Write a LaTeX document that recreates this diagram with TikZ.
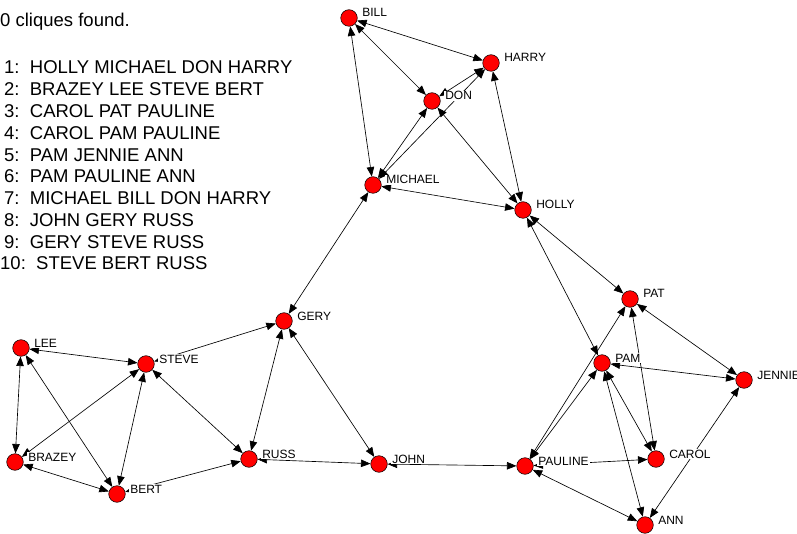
\documentclass[tikz,border=0pt]{standalone}
\usepackage{fontspec}
\setmainfont{Liberation Sans}
\usetikzlibrary{arrows.meta}
\pgfdeclarelayer{edges}
\pgfsetlayers{edges,main}
\tikzset{
  actor/.style={circle, draw=black, fill=red, line width=0.5pt, minimum size=16.6pt, inner sep=0pt},
  tag/.style={anchor=base west, fill=white, inner xsep=1pt, inner ysep=0.5pt, xshift=3.5pt, yshift=1pt, font=\fontsize{12}{12}\selectfont},
  link/.style={line width=0.65pt, {Triangle[length=9.5pt,width=7.5pt]}-{Triangle[length=9.5pt,width=7.5pt]}},
  row/.style={anchor=base west, inner sep=0pt, font=\fontsize{18.5}{18.5}\selectfont}
}
\begin{document}
\begin{tikzpicture}[x=1pt,y=-1pt]
    \useasboundingbox (0,0) rectangle (797,534);
    % clique list
    \node[row] (count) at (0,27) {0 cliques found.};
    \foreach \i/\t in {1/HOLLY MICHAEL DON HARRY, 2/BRAZEY LEE STEVE BERT, 3/CAROL PAT PAULINE,
                       4/CAROL PAM PAULINE, 5/PAM JENNIE ANN, 6/PAM PAULINE ANN,
                       7/MICHAEL BILL DON HARRY, 8/JOHN GERY RUSS, 9/GERY STEVE RUSS}
        \node[row] (row\i) at (4,{52.2+21.8*\i}) {\i:\ \ \t};
    \node[row] (row10) at (0,270) {10:\ \ STEVE BERT RUSS};
    % actors
    \foreach \n/\x/\y in {BILL/349/18, HARRY/491/63, DON/432/101, MICHAEL/373/185, HOLLY/523/210,
                          GERY/284/321, LEE/21/348, STEVE/146/364, BRAZEY/15/462, BERT/117/494,
                          RUSS/249/459, JOHN/379/464, PAULINE/525/466, PAT/630/299, PAM/602/363,
                          JENNIE/744/380, CAROL/656/459, ANN/645/525}
        \node[actor, label={[tag]0:\n}] (\n) at (\x,\y) {};
    % ties
    \begin{pgfonlayer}{edges}
        \foreach \a/\b in {BILL/HARRY, BILL/DON, BILL/MICHAEL, DON/HARRY, MICHAEL/DON, MICHAEL/HARRY,
                           HOLLY/MICHAEL, HOLLY/DON, HOLLY/HARRY, MICHAEL/GERY, HOLLY/PAT, HOLLY/PAM,
                           GERY/STEVE, GERY/RUSS, GERY/JOHN, LEE/STEVE, LEE/BRAZEY, LEE/BERT,
                           BRAZEY/STEVE, BRAZEY/BERT, STEVE/BERT, STEVE/RUSS, BERT/RUSS, RUSS/JOHN,
                           JOHN/PAULINE, PAULINE/PAT, PAULINE/PAM, PAULINE/CAROL, PAULINE/ANN,
                           PAT/CAROL, PAT/JENNIE, PAM/JENNIE, PAM/CAROL, PAM/ANN, JENNIE/ANN}
            \draw[link] (\a) -- (\b);
    \end{pgfonlayer}
\end{tikzpicture}
\end{document}
